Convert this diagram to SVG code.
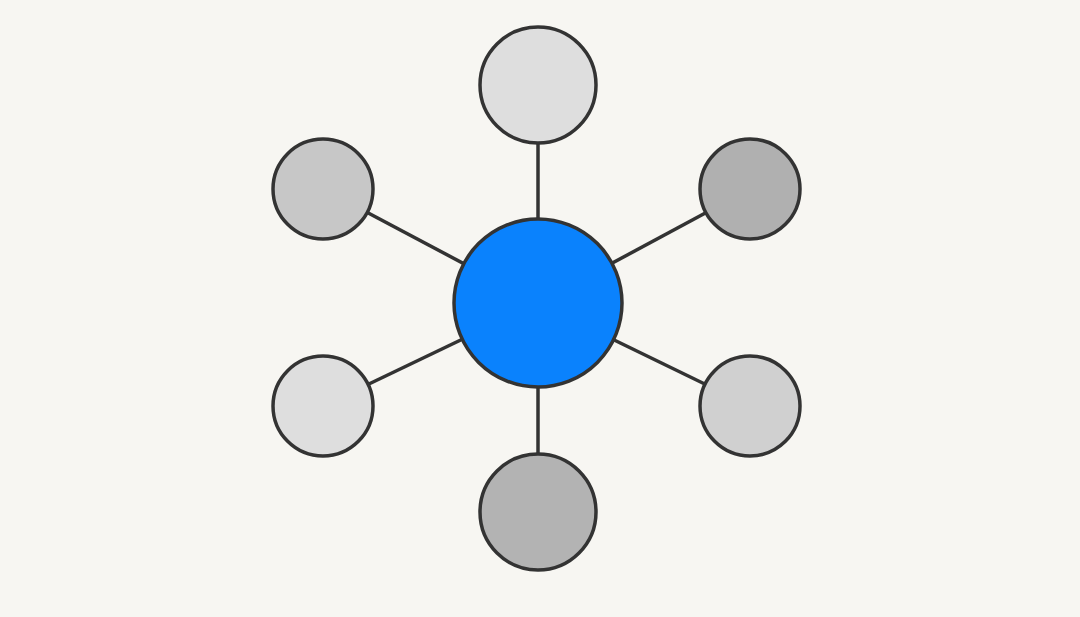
<svg xmlns="http://www.w3.org/2000/svg" width="1080" height="617" viewBox="0 0 1080 617">
<style>
.node{stroke:#333333;stroke-width:3.5}
.edge{stroke:#333333;stroke-width:3.5;fill:none}
</style>
<rect width="1080" height="617" fill="#f7f6f2"/>
<g id="connectors">
<line class="edge" x1="538" y1="303" x2="538" y2="85"/>
<line class="edge" x1="538" y1="303" x2="538" y2="512"/>
<line class="edge" x1="538" y1="303" x2="323" y2="189"/>
<line class="edge" x1="538" y1="303" x2="750" y2="189"/>
<line class="edge" x1="538" y1="303" x2="323" y2="406"/>
<line class="edge" x1="538" y1="303" x2="750" y2="406"/>
</g>
<g id="node-top"><circle class="node" cx="538" cy="85" r="58" fill="#dedede"/></g>
<g id="node-bottom"><circle class="node" cx="538" cy="512" r="58" fill="#b3b3b3"/></g>
<g id="node-left-top"><circle class="node" cx="323" cy="189" r="50" fill="#c7c7c7"/></g>
<g id="node-right-top"><circle class="node" cx="750" cy="189" r="50" fill="#b0b0b0"/></g>
<g id="node-left-bottom"><circle class="node" cx="323" cy="406" r="50" fill="#dedede"/></g>
<g id="node-right-bottom"><circle class="node" cx="750" cy="406" r="50" fill="#d0d0d0"/></g>
<g id="node-center"><circle class="node" cx="538" cy="303" r="84" fill="#0a82fd"/></g>
</svg>
